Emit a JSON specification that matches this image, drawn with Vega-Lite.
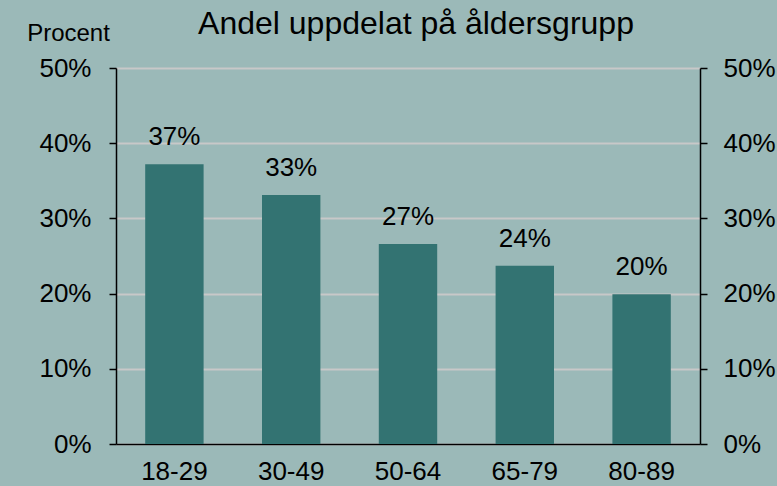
{
  "$schema": "https://vega.github.io/schema/vega-lite/v6.json",
  "width": 584,
  "height": 376,
  "autosize": {"type": "none"},
  "padding": {"left": 116, "top": 68, "right": 77, "bottom": 42},
  "background": "#9bb9b8",
  "config": {
    "view": {"stroke": null},
    "font": "Liberation Sans"
  },
  "title": {"text": "Andel uppdelat på åldersgrupp", "fontSize": 32, "fontWeight": "normal", "font": "Liberation Sans", "color": "#000000", "anchor": "middle", "baseline": "alphabetic", "offset": -45, "dx": 8},
  "data": {"values": [
    {"grupp": "18-29", "andel": 0.372, "label": "37%"},
    {"grupp": "30-49", "andel": 0.331, "label": "33%"},
    {"grupp": "50-64", "andel": 0.266, "label": "27%"},
    {"grupp": "65-79", "andel": 0.237, "label": "24%"},
    {"grupp": "80-89", "andel": 0.199, "label": "20%"}
  ]},
  "encoding": {
    "x": {"field": "grupp", "type": "nominal", "sort": null,
      "scale": {"paddingInner": 0.5, "paddingOuter": 0.25},
      "axis": {"title": null, "labelAngle": 0, "ticks": false, "labelPadding": 14, "grid": false, "labelFontSize": 26, "labelColor": "#000000", "labelFont": "Liberation Sans", "domainColor": "#000000", "domainWidth": 1.5}}
  },
  "layer": [
    {
      "mark": {"type": "bar", "color": "#337372"},
      "encoding": {
        "y": {"field": "andel", "type": "quantitative", "scale": {"domain": [0, 0.5]},
          "axis": {"format": "%", "values": [0, 0.1, 0.2, 0.3, 0.4, 0.5], "labelOverlap": false, "labelFontSize": 26, "labelColor": "#000000", "labelFont": "Liberation Sans", "domainColor": "#000000", "tickColor": "#000000", "domainWidth": 1.5, "tickWidth": 1.5, "grid": true, "gridColor": "#c8c8c8", "gridWidth": 2, "tickSize": 7, "labelPadding": 18,
            "title": "Procent", "titleAngle": 0, "titleFontSize": 24, "titleFont": "Liberation Sans", "titleFontWeight": "normal", "titleColor": "#000000", "titleX": -48, "titleY": -28, "titleAlign": "center", "titleBaseline": "alphabetic"}}
      }
    },
    {
      "mark": {"type": "text", "fontSize": 26, "color": "#000000", "baseline": "alphabetic", "dy": -19},
      "encoding": {
        "y": {"field": "andel", "type": "quantitative", "scale": {"domain": [0, 0.5]}, "axis": null},
        "text": {"field": "label"}
      }
    },
    {
      "mark": {"type": "rule", "opacity": 0},
      "encoding": {
        "y": {"field": "andel", "type": "quantitative", "scale": {"domain": [0, 0.5]},
          "axis": {"orient": "right", "format": "%", "values": [0, 0.1, 0.2, 0.3, 0.4, 0.5], "labelOverlap": false, "labelFontSize": 26, "labelColor": "#000000", "labelFont": "Liberation Sans", "domainColor": "#000000", "tickColor": "#000000", "domainWidth": 1.5, "tickWidth": 1.5, "grid": false, "tickSize": 7, "labelPadding": 16, "title": null}}
      }
    }
  ],
  "resolve": {"scale": {"y": "shared"}, "axis": {"y": "independent"}}
}
